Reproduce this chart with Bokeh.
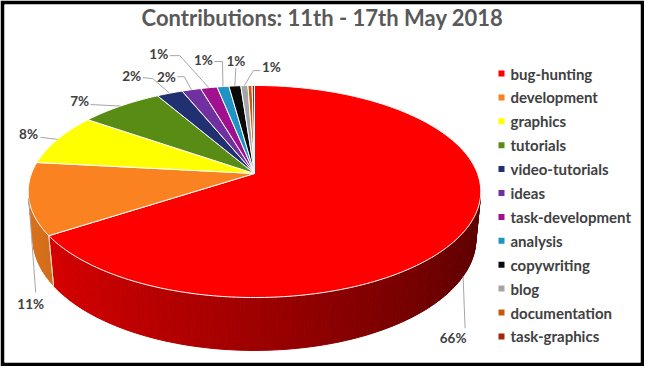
import numpy as np
from bokeh.plotting import figure
from bokeh.models import Range1d, ColumnDataSource
from bokeh.core.properties import value
from bokeh.embed import file_html
from bokeh.resources import INLINE

# ---------------- data ----------------
title_text = "Contributions: 11th - 17th May 2018"
categories = ["bug-hunting", "development", "graphics", "tutorials", "video-tutorials",
              "ideas", "task-development", "analysis", "copywriting", "blog",
              "documentation", "task-graphics"]
values = [66, 11, 8, 7, 2.2, 1.6, 1.4, 1.0, 1.0, 0.6, 0.35, 0.2]
colors = ["#ff0000", "#fa8220", "#ffff00", "#588c14", "#203070", "#7030a0",
          "#a0108f", "#1f93c3", "#0a0a0a", "#a5a5a5", "#c55a11", "#a0280c"]

# ---------------- layout / styles ----------------
CX, CY = 262.0, 181.0          # projected pie centre (screen px)
FOCAL, DIST = 1164.0, 5.22      # perspective
ALPHA = np.radians(27.5)        # elevation
THICK = 0.241                   # pie thickness (in radii)
ca, sa = np.cos(ALPHA), np.sin(ALPHA)

# label offsets from slice anchor, leader start / elbow relative to label centre
label_off = [(-10, 62), (2, 105), (-29, -5), (-41, -5.5), (-38, -17.6), (-25, -13),
             (-50, -34), (-19.5, -27), (1, -25), (27, -19)]
lead_p1 = [(12, -10), (5, -11), (12, 3), (11, 4), (11, 2), (11, 0), (11, 2), (11, 2), (0, 7), (-11, 4)]
lead_p2 = [(12, -10), (5, -11), (12, 3), (11, 4), (21, 3), (18, 0), (21, 2), (19, 2), (0, 7), (-18, 4)]
anchor_depth = [1, 0, 0, 0, 0, 0, 0, 0, 0, 0]

LEG_X, LEG_Y0, LEG_DY = 509, 81, 23.9
FONT = "Lato"
TXT = "#404040"


def proj(X, Y, Z):
    yc = Y * ca + Z * sa
    zc = -Y * sa + Z * ca + DIST
    return CX + FOCAL * X / zc, CY - FOCAL * yc / zc


def shade(hexc, f):
    r, g, b = int(hexc[1:3], 16), int(hexc[3:5], 16), int(hexc[5:7], 16)
    return "#%02x%02x%02x" % tuple(int(max(0, min(255, round(v * f)))) for v in (r, g, b))


vals = np.array(values, dtype=float)
total = vals.sum()
ends = np.cumsum(vals) / total * 2 * np.pi
starts = np.concatenate([[0.0], ends[:-1]])
mids = (starts + ends) / 2

p = figure(width=644, height=366, output_backend="svg", toolbar_location=None,
           x_range=Range1d(12, 648), y_range=Range1d(370, 12), title=None,
           min_border=4, border_fill_color="black", background_fill_color="white",
           outline_line_color=None)
p.axis.visible = False
p.grid.visible = False

# ---- side walls ----
vis_lo = np.arccos(-1.0 / (DIST * ca))
vis_hi = 2 * np.pi - vis_lo
sx_l, sy_l, sc_l = [], [], []
edge_xs, edge_ys = [], []
step = np.radians(1.0)
for i in range(len(vals)):
    lo, hi = max(starts[i], vis_lo), min(ends[i], vis_hi)
    if hi <= lo:
        continue
    n = max(1, int(np.ceil((hi - lo) / step)))
    ts = np.linspace(lo, hi, n + 1)
    for ta, tb in zip(ts[:-1], ts[1:]):
        xa, ya = proj(np.sin(ta), 0, np.cos(ta))
        xb, yb = proj(np.sin(tb), 0, np.cos(tb))
        xb2, yb2 = proj(np.sin(tb), -THICK, np.cos(tb))
        xa2, ya2 = proj(np.sin(ta), -THICK, np.cos(ta))
        tm = (ta + tb) / 2
        f = 0.62 - 0.26 * np.sin(tm)
        sx_l.append([xa, xb, xb2, xa2])
        sy_l.append([ya, yb, yb2, ya2])
        sc_l.append(shade(colors[i], f))
    for t in (starts[i], ends[i]):
        if vis_lo < t < vis_hi:
            x1, y1 = proj(np.sin(t), 0, np.cos(t))
            x2, y2 = proj(np.sin(t), -THICK, np.cos(t))
            edge_xs.append([x1, x2])
            edge_ys.append([y1, y2])

p.patches(xs="xs", ys="ys", fill_color="c", line_color="c", line_width=1,
          source=ColumnDataSource(dict(xs=sx_l, ys=sy_l, c=sc_l)))
p.multi_line(edge_xs, edge_ys, line_color="#f4e0d0", line_width=1, line_alpha=0.8)

# ---- top faces ----
tx_l, ty_l = [], []
for i in range(len(vals)):
    n = max(2, int(np.ceil((ends[i] - starts[i]) / step)))
    ts = np.linspace(starts[i], ends[i], n + 1)
    rx, ry = proj(np.sin(ts), 0 * ts, np.cos(ts))
    tx_l.append([CX] + list(rx))
    ty_l.append([CY] + list(ry))
p.patches(xs="xs", ys="ys", fill_color="c", line_color="white", line_width=1,
          source=ColumnDataSource(dict(xs=tx_l, ys=ty_l, c=colors)))

# ---- data labels ----
pct = [int(round(v / total * 100)) for v in vals]
lab_x, lab_y, lab_t, ld_xs, ld_ys = [], [], [], [], []
k = 0
for i in range(len(vals)):
    if pct[i] < 1 or k >= len(label_off):
        continue
    t = mids[i]
    ax, ay = proj(np.sin(t), -THICK * anchor_depth[k], np.cos(t))
    lx, ly = ax + label_off[k][0], ay + label_off[k][1]
    lab_x.append(lx)
    lab_y.append(ly)
    lab_t.append("%d%%" % pct[i])
    ld_xs.append([lx + lead_p1[k][0], lx + lead_p2[k][0], ax])
    ld_ys.append([ly + lead_p1[k][1], ly + lead_p2[k][1], ay])
    k += 1
p.multi_line(ld_xs, ld_ys, line_color="#a6a6a6", line_width=1)
p.text(x=lab_x, y=lab_y, text=lab_t, text_font=value(FONT), text_font_style="bold",
       text_font_size="13.5px", text_color=TXT, text_align="center", text_baseline="middle")

# ---- legend ----
ly_pos = [LEG_Y0 + j * LEG_DY for j in range(len(categories))]
p.scatter(x=[LEG_X] * len(categories), y=ly_pos, marker="square", size=6,
          fill_color=colors, line_color=None)
p.text(x=[LEG_X + 9] * len(categories), y=ly_pos, text=categories, text_font=value(FONT),
       text_font_style="bold", text_font_size="15px", text_color=TXT,
       text_align="left", text_baseline="middle")

# ---- title ----
p.text(x=[330], y=[25], text=[title_text], text_font=value(FONT), text_font_style="bold",
       text_font_size="22px", text_color="#595959", text_align="center", text_baseline="middle")

open("out.html", "w").write(file_html(p, INLINE))
